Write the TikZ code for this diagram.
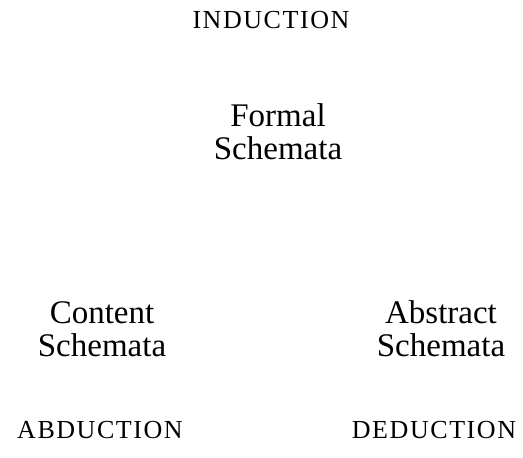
\documentclass[tikz,border=0pt]{standalone}
\usepackage{fontspec}
\setmainfont{Liberation Serif}

\tikzset{
  reasoning/.style={font=\fontsize{26}{26}\selectfont\addfontfeature{LetterSpace=6}, inner sep=0pt, anchor=base},
  schemata/.style={font=\fontsize{33}{33}\selectfont, align=center, inner sep=0pt, anchor=base},
}

\begin{document}
\begin{tikzpicture}[x=1pt, y=-1pt]

    \useasboundingbox (0,0) rectangle (523,458);

    \node[reasoning] (induction) at (271,28) {INDUCTION};

    % base of a two-line node is the baseline of its last line
    \node[schemata] (formal) at (278,159) {Formal\\Schemata};

    \node[schemata] (content) at (102,356) {Content\\Schemata};
    \node[schemata] (abstract) at (441,356) {Abstract\\Schemata};

    \node[reasoning] (abduction) at (100,438) {ABDUCTION};
    \node[reasoning] (deduction) at (434,438) {DEDUCTION};

\end{tikzpicture}
\end{document}
